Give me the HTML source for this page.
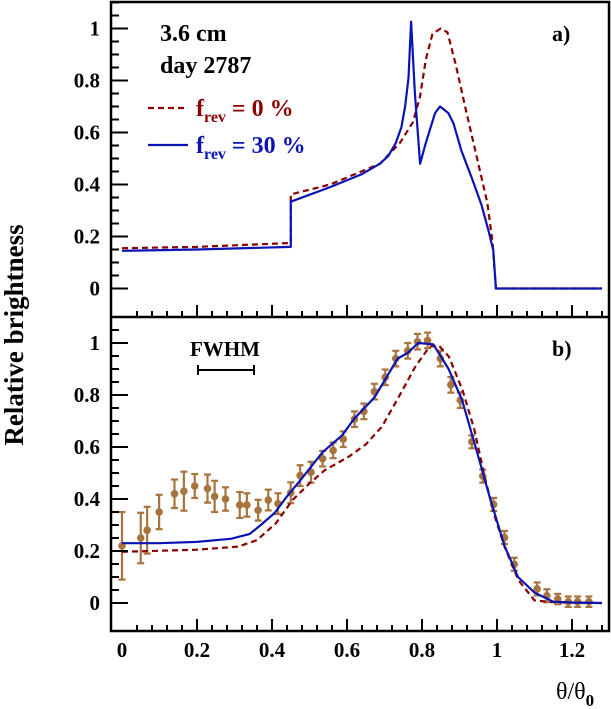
<!DOCTYPE html>
<html><head><meta charset="utf-8"><style>
body{margin:0;background:#fff;}
svg{display:block;font-family:"Liberation Serif",serif;font-weight:bold;}
</style></head><body>
<svg id="chart" width="611" height="709" viewBox="0 0 611 709">
<g id="marks"></g>
<g id="axes"></g>
<text x="14" y="335" transform="rotate(-90 14 335)" text-anchor="middle" dominant-baseline="central" font-size="27">Relative brightness</text>
<text x="556" y="699" font-size="24" font-weight="normal">θ/θ<tspan font-size="17" font-weight="bold" dy="7">0</tspan></text>
<text x="160" y="41" font-size="24">3.6 cm</text>
<text x="160" y="73" font-size="24">day 2787</text>
<g>
<line x1="148" y1="108" x2="188" y2="108" stroke="#8b0000" stroke-width="2.2" stroke-dasharray="6,4"/>
<text x="196" y="116" font-size="24" fill="#8b0000">f<tspan font-size="16" dy="6">rev</tspan><tspan dy="-6"> = 0 %</tspan></text>
<line x1="148" y1="145" x2="188" y2="145" stroke="#0a14b4" stroke-width="2.2"/>
<text x="196" y="153" font-size="24" fill="#0a14b4">f<tspan font-size="16" dy="6">rev</tspan><tspan dy="-6"> = 30 %</tspan></text>
</g>
<text x="552" y="41" font-size="22">a)</text>
<text x="552" y="356" font-size="22">b)</text>
<text x="190" y="356" font-size="21">FWHM</text>
<g stroke="#000" stroke-width="2">
<line x1="198" y1="370" x2="254" y2="370"/><line x1="198" y1="365" x2="198" y2="375"/><line x1="254" y1="365" x2="254" y2="375"/>
</g>
</svg>
<script>
// panel a curves
const aRedX=[0,0.2,0.45,0.45,0.555,0.688,0.741,0.776,0.795,0.81,0.828,0.85,0.868,0.89,0.915,0.95,0.974,0.988,0.997,1.0,1.28];
const aRedY=[0.155,0.16,0.175,0.362,0.40,0.48,0.56,0.64,0.74,0.88,0.98,1.0,0.985,0.86,0.70,0.48,0.33,0.18,0.0,0,0];
const aBlueX=[0,0.2,0.45,0.45,0.555,0.64,0.688,0.71,0.73,0.745,0.755,0.764,0.771,0.781,0.795,0.81,0.835,0.848,0.87,0.884,0.905,0.935,0.959,0.977,0.99,0.997,1.0,1.28];
const aBlueY=[0.145,0.15,0.16,0.334,0.39,0.44,0.48,0.51,0.56,0.62,0.70,0.81,1.026,0.75,0.48,0.56,0.675,0.70,0.675,0.635,0.53,0.417,0.32,0.224,0.147,0.0,0,0];
// panel b model curves
const bBlueX=[0,0.1,0.2,0.29,0.34,0.37,0.407,0.44,0.48,0.535,0.587,0.62,0.673,0.735,0.76,0.79,0.83,0.871,0.907,0.943,0.98,1.02,1.056,1.1,1.15,1.2,1.28];
const bBlueY=[0.23,0.23,0.235,0.247,0.265,0.30,0.346,0.41,0.48,0.58,0.645,0.71,0.79,0.94,0.96,1.0,0.995,0.90,0.78,0.60,0.41,0.22,0.10,0.04,0.005,0.002,0];
const bRedX=[0,0.2,0.31,0.36,0.41,0.455,0.5,0.54,0.605,0.65,0.693,0.738,0.782,0.82,0.845,0.872,0.908,0.94,0.967,0.994,1.02,1.057,1.1,1.15,1.2,1.28];
const bRedY=[0.197,0.205,0.217,0.242,0.306,0.396,0.46,0.51,0.563,0.61,0.678,0.793,0.909,0.986,0.99,0.947,0.819,0.665,0.486,0.332,0.217,0.088,0.01,0.003,0.001,0];
// panel b data points
const ptX=[0,0.05,0.067,0.099,0.14,0.165,0.194,0.228,0.247,0.276,0.314,0.333,0.363,0.39,0.416,0.45,0.475,0.504,0.535,0.563,0.59,0.62,0.645,0.673,0.702,0.73,0.762,0.788,0.815,0.849,0.877,0.902,0.933,0.962,0.991,1.02,1.046,1.107,1.133,1.162,1.19,1.215,1.245];
const ptY=[0.22,0.25,0.28,0.35,0.42,0.43,0.45,0.44,0.41,0.40,0.377,0.377,0.357,0.396,0.382,0.424,0.49,0.503,0.555,0.587,0.63,0.707,0.737,0.813,0.868,0.94,0.97,1.005,1.01,0.94,0.839,0.78,0.62,0.488,0.379,0.252,0.149,0.054,0.028,0.015,0.005,0.005,0.005];
const ptErr=[0.13,0.097,0.09,0.066,0.055,0.075,0.046,0.054,0.06,0.045,0.05,0.045,0.04,0.04,0.04,0.04,0.04,0.04,0.03,0.03,0.03,0.03,0.03,0.03,0.03,0.03,0.03,0.03,0.03,0.03,0.03,0.03,0.025,0.025,0.025,0.025,0.025,0.025,0.025,0.02,0.02,0.02,0.02];
const yTickLabels=["0","0.2","0.4","0.6","0.8","1"];
const xTickLabels=["0","0.2","0.4","0.6","0.8","1","1.2"];

const NS="http://www.w3.org/2000/svg";
const L=111,R=609,TOP=2,MID=317,BOT=631;
const sx=v=>122+v*375;
const syA=v=>288.5-v*260;
const syB=v=>603-v*260;
const marks=document.getElementById('marks'),axes=document.getElementById('axes');
function mk(tag,attrs,parent){const e=document.createElementNS(NS,tag);for(const k in attrs)e.setAttribute(k,attrs[k]);parent.appendChild(e);return e;}
function path(xs,ys,sy){return xs.map((x,i)=>(i?'L':'M')+sx(Math.min(x,1.29)).toFixed(1)+','+sy(ys[i]).toFixed(1)).join('');}

const clipDefs=mk('defs',{},marks);
const cp=mk('clipPath',{id:'clipA'},clipDefs);mk('rect',{x:L,y:TOP,width:R-L,height:MID-TOP},cp);
const cp2=mk('clipPath',{id:'clipB'},clipDefs);mk('rect',{x:L,y:MID,width:R-L,height:BOT-MID},cp2);

let e;
e=mk('path',{d:path(aRedX,aRedY,syA),fill:'none',stroke:'#8b0000','stroke-width':2.2,'stroke-dasharray':'6,4','clip-path':'url(#clipA)'},marks);


e=mk('path',{d:path(aBlueX,aBlueY,syA),fill:'none',stroke:'#0a14b4','stroke-width':2.2,'stroke-linejoin':'round','clip-path':'url(#clipA)'},marks);



// data points
ptX.forEach((x,i)=>{
  const g=mk('g',{stroke:'#a8743e','stroke-width':2.2,fill:'#a8743e'},marks);
  
  
  const cx=sx(x),y1=syB(ptY[i]+ptErr[i]),y2=syB(ptY[i]-ptErr[i]);
  mk('line',{x1:cx,y1:y1,x2:cx,y2:y2},g);
  mk('line',{x1:cx-3.5,y1:y1,x2:cx+3.5,y2:y1},g);
  mk('line',{x1:cx-3.5,y1:y2,x2:cx+3.5,y2:y2},g);
  mk('circle',{cx:cx,cy:syB(ptY[i]),r:3.8,stroke:'none'},g);
});
e=mk('path',{d:path(bRedX,bRedY,syB),fill:'none',stroke:'#8b0000','stroke-width':2.2,'stroke-dasharray':'6,4','clip-path':'url(#clipB)'},marks);


e=mk('path',{d:path(bBlueX,bBlueY,syB),fill:'none',stroke:'#0a14b4','stroke-width':2.2,'stroke-linejoin':'round','clip-path':'url(#clipB)'},marks);



// frames
e=mk('rect',{x:L,y:TOP,width:R-L,height:BOT-TOP,fill:'none',stroke:'#000','stroke-width':2.5},axes);


e=mk('line',{x1:L,y1:MID,x2:R,y2:MID,stroke:'#000','stroke-width':2.5},axes);



// y ticks both panels
[[syA,'a'],[syB,'b']].forEach(([sy,p])=>{
  for(let k=0;k<=22;k++){
    const v=k*0.05;const major=k%4===0;const y=sy(v);
    mk('line',{x1:L,y1:y,x2:L+(major?17:8),y2:y,stroke:'#000','stroke-width':2},axes);
  }
  yTickLabels.forEach((t,i)=>{
    const tx=mk('text',{x:100,y:sy(i*0.2)+7,'text-anchor':'end','font-size':21},axes);
    tx.textContent=t;
    
    
  });
});
// x ticks both panels
[MID,BOT].forEach(base=>{
  for(let k=1;k<=32;k++){
    const v=k*0.04;const x=sx(v);if(x>R-2)break;
    const major=k%5===0;
    mk('line',{x1:x,y1:base,x2:x,y2:base-(major?12:6),stroke:'#000','stroke-width':2},axes);
  }
});
xTickLabels.forEach((t,i)=>{
  const tx=mk('text',{x:sx(i*0.2),y:657,'text-anchor':'middle','font-size':21},axes);
  tx.textContent=t;
  
  
});
</script>
</body></html>
